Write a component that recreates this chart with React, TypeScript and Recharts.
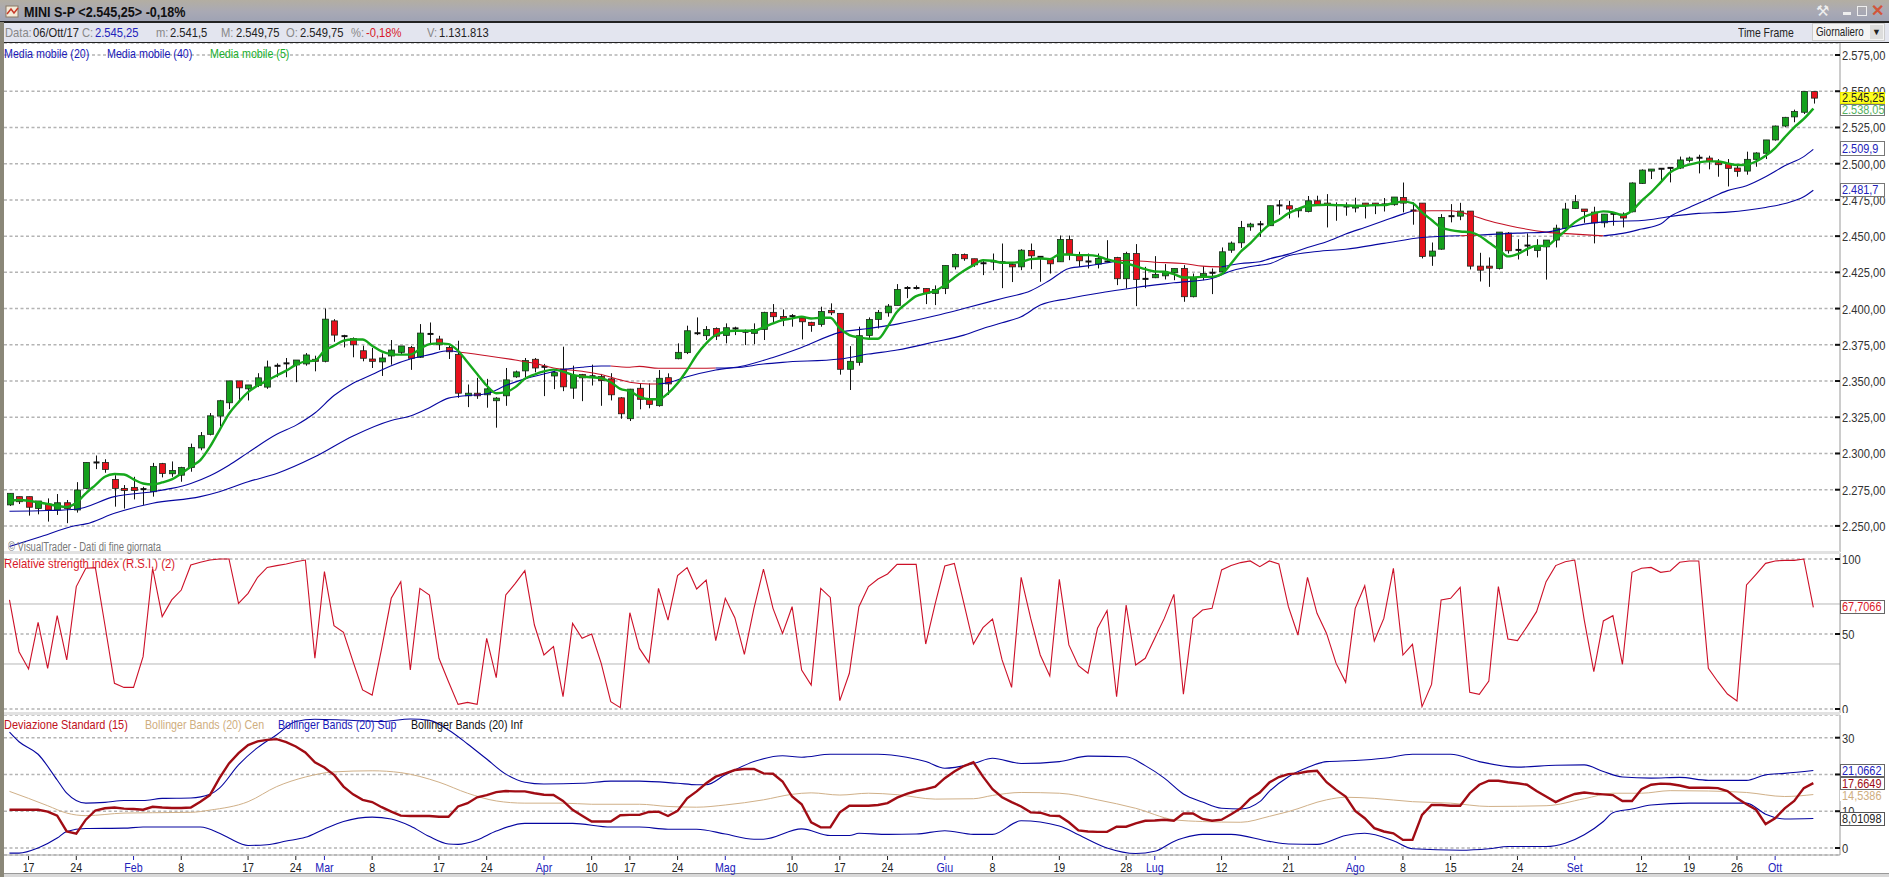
import { Bar, CartesianGrid, ComposedChart, Line, ReferenceLine, XAxis, YAxis } from "recharts";

const TICK_FONT = '"Liberation Sans", sans-serif';

// weekdays from 13 Jan 2017 to 6 Oct 2017, market closed on Good Friday
const dates: string[] = [];
for (let d = new Date(Date.UTC(2017, 0, 13)); d <= new Date(Date.UTC(2017, 9, 6)); d = new Date(d.getTime() + 86400000)) {
  const key = d.toISOString().slice(0, 10);
  if (d.getUTCDay() !== 0 && d.getUTCDay() !== 6 && key !== "2017-04-14") dates.push(key);
}

const xLabels: [string, string][] = [
  ["2017-01-17", "17"], ["2017-01-24", "24"], ["2017-02-01", "Feb"], ["2017-02-08", "8"], ["2017-02-17", "17"],
  ["2017-02-24", "24"], ["2017-03-01", "Mar"], ["2017-03-08", "8"], ["2017-03-17", "17"], ["2017-03-24", "24"],
  ["2017-04-03", "Apr"], ["2017-04-10", "10"], ["2017-04-17", "17"], ["2017-04-24", "24"], ["2017-05-01", "Mag"],
  ["2017-05-10", "10"], ["2017-05-17", "17"], ["2017-05-24", "24"], ["2017-06-01", "Giu"], ["2017-06-08", "8"],
  ["2017-06-19", "19"], ["2017-06-28", "28"], ["2017-07-03", "Lug"], ["2017-07-12", "12"], ["2017-07-21", "21"],
  ["2017-08-01", "Ago"], ["2017-08-08", "8"], ["2017-08-15", "15"], ["2017-08-24", "24"], ["2017-09-01", "Set"],
  ["2017-09-12", "12"], ["2017-09-19", "19"], ["2017-09-26", "26"], ["2017-10-02", "Ott"],
];
const monthLabels = ["Feb", "Mar", "Apr", "Mag", "Giu", "Lug", "Ago", "Set", "Ott"];

const opens = [
  2264.5, 2270.2, 2270.2, 2262, 2265.1, 2261, 2266, 2261, 2275.9, 2293.8,
  2293.8, 2282.1, 2275.9, 2276.6, 2275.4, 2273.6, 2293, 2286, 2285, 2290.3,
  2303.8, 2313.2, 2325.8, 2335, 2350.1, 2344.6, 2346.9, 2345.8, 2360.5, 2362.2,
  2361.1, 2361.8, 2365, 2363.6, 2391.5, 2381, 2379.4, 2370.9, 2365.2, 2363.2,
  2367.3, 2369.8, 2373.2, 2366.4, 2382.5, 2379, 2373.2, 2368.4, 2339.8, 2341.6,
  2340.5, 2336.4, 2339.8, 2352.9, 2357, 2365, 2359.8, 2353.5, 2358.3, 2345.1,
  2354.5, 2353.3, 2353.1, 2351.5, 2338.4, 2324, 2345, 2337.4, 2333, 2352.3,
  2365.4, 2369.6, 2383, 2381.3, 2386.3, 2381.5, 2386.3, 2384, 2382.9, 2385.6,
  2397.4, 2394.6, 2394.8, 2393.5, 2390.5, 2389.1, 2398.7, 2396.7, 2358.1, 2362.9,
  2381.5, 2392.5, 2397.1, 2402.2, 2414.2, 2414.2, 2413.9, 2410.5, 2413.9, 2428.8,
  2437.3, 2434.4, 2431.3, 2432.5, 2432, 2430.4, 2428.8, 2440.1, 2435.7, 2433.9,
  2432.3, 2447.7, 2436.4, 2432.5, 2430.7, 2432.5, 2435.3, 2420.6, 2438, 2420.5,
  2421.3, 2422.6, 2424.7, 2427.7, 2408.2, 2422.4, 2424.7, 2425.4, 2440.3, 2445.4,
  2456.4, 2458.2, 2457.2, 2471.2, 2471, 2467.5, 2467, 2474.4, 2472.8, 2471.4,
  2470.5, 2469.4, 2472.8, 2472.8, 2471.9, 2471.7, 2476.7, 2467.7, 2472.8, 2436.2,
  2441, 2463.8, 2463.8, 2467.3, 2429.3, 2429.3, 2427.7, 2452.1, 2440.5, 2443.5,
  2440.1, 2442.6, 2447.3, 2455.3, 2469.1, 2468.7, 2466.6, 2459.2, 2465.4, 2465.2,
  2466.8, 2486.4, 2494.9, 2496.5, 2496.9, 2497, 2502.3, 2504.1, 2503.9, 2500.7,
  2500.2, 2497, 2494.9, 2503, 2507.2, 2516.4, 2526, 2532.3, 2535.5, 2549.75,
];
const highs = [
  2272.5, 2270.2, 2270.2, 2267.2, 2269, 2272, 2267.9, 2280.2, 2293.8, 2298.6,
  2296, 2285, 2278.2, 2283.9, 2277, 2293.5, 2293.5, 2294.5, 2290.8, 2306.8,
  2314.8, 2327.9, 2337, 2350.1, 2350.1, 2347.3, 2355.4, 2364.1, 2362.2, 2365.9,
  2364.5, 2369.3, 2367.5, 2400, 2392.7, 2381.9, 2380.1, 2374.4, 2372.8, 2369.1,
  2378.3, 2374.2, 2374.2, 2389.3, 2390.4, 2381.2, 2374.4, 2377.8, 2347.6, 2352.2,
  2351.5, 2338.9, 2359, 2357.2, 2365.9, 2365.9, 2361.8, 2357.2, 2373.7, 2360.6,
  2354.9, 2361.3, 2354.9, 2355.4, 2338.9, 2344.6, 2348.4, 2348.4, 2357.6, 2355.3,
  2376, 2388.2, 2393.9, 2387.9, 2387, 2389.8, 2387.5, 2385.6, 2389.8, 2397.8,
  2403.1, 2399.4, 2396.2, 2394.4, 2390.9, 2401.3, 2403.6, 2396.7, 2374.1, 2387.5,
  2393.9, 2399, 2403.1, 2416.9, 2415.5, 2416, 2413.9, 2416, 2429.8, 2438,
  2438, 2434.4, 2433.9, 2438, 2444.9, 2431.1, 2441, 2444.9, 2436.2, 2434.6,
  2450.4, 2450.4, 2439.2, 2438, 2438, 2447.2, 2435.7, 2439.2, 2444.5, 2428.8,
  2436.2, 2430.7, 2427.7, 2430, 2424.2, 2429.3, 2427.7, 2442.2, 2446.3, 2460.5,
  2459.2, 2460.5, 2471, 2474.9, 2474.4, 2469.4, 2477.7, 2477.9, 2479, 2473.3,
  2473.3, 2476.5, 2472.8, 2472.8, 2476.3, 2477, 2487, 2473.3, 2472.8, 2445.6,
  2465.2, 2472.1, 2473, 2467.3, 2438.5, 2435.3, 2452.8, 2452.8, 2447.9, 2451.9,
  2447.9, 2447.3, 2457.9, 2473, 2478.4, 2468.7, 2470.3, 2465.2, 2466.4, 2466.4,
  2487.1, 2496.1, 2496.3, 2496.8, 2497.3, 2504.9, 2504.9, 2506.2, 2505.5, 2503.2,
  2503.2, 2498.6, 2508.3, 2507.9, 2516.4, 2526.3, 2532.3, 2537.3, 2549.8, 2549.75,
];
const lows = [
  2263.8, 2265.1, 2257.1, 2258, 2253, 2257.6, 2251.9, 2259.2, 2275.4, 2289.2,
  2286.7, 2263.3, 2262, 2268.3, 2264.5, 2270.2, 2283.5, 2283.9, 2280.5, 2287.4,
  2302.2, 2312.5, 2318.7, 2330.6, 2336.1, 2336.6, 2345.8, 2344.6, 2352.6, 2352.6,
  2349.2, 2360.6, 2356.7, 2362.9, 2377.1, 2373.2, 2366.4, 2363.6, 2359, 2353.5,
  2361.3, 2368.6, 2357.7, 2365.9, 2375, 2371.4, 2365.2, 2338.4, 2332, 2337.7,
  2331.6, 2317.8, 2332.9, 2352.2, 2352.6, 2356, 2339.6, 2344.4, 2343, 2337.7,
  2336.1, 2346.9, 2332.9, 2336.6, 2324, 2322.4, 2330.5, 2331.2, 2332.3, 2340.4,
  2365, 2368.6, 2381.7, 2378.3, 2378.3, 2376, 2381.7, 2374.8, 2375.5, 2378.3,
  2389.8, 2387.9, 2387.5, 2378.7, 2384, 2387.5, 2395.5, 2354.4, 2343.8, 2360.6,
  2378.3, 2386.3, 2394.4, 2402.2, 2407.2, 2413.2, 2403.1, 2402.4, 2410, 2427,
  2433, 2428.8, 2423.1, 2426.5, 2414.1, 2418.3, 2426.5, 2427.2, 2418.5, 2424.2,
  2432.3, 2433.4, 2428.8, 2427.7, 2427.7, 2432, 2416.2, 2413.9, 2401.7, 2414.1,
  2421, 2420.1, 2419.6, 2404.7, 2407.7, 2419.6, 2410, 2423.8, 2438.5, 2441.9,
  2453.7, 2449.5, 2457, 2464.8, 2462.2, 2462.9, 2466.4, 2471, 2456, 2460.6,
  2464.1, 2466.4, 2462.2, 2465.2, 2467, 2471, 2466.4, 2457.9, 2434.6, 2429.5,
  2440.6, 2459.5, 2461, 2427, 2418.7, 2415, 2427, 2438, 2433.9, 2436.4,
  2435.3, 2420, 2442.2, 2454.9, 2468.7, 2459.2, 2445, 2456, 2457.2, 2456,
  2466.4, 2486, 2489.4, 2487.1, 2487.1, 2496.3, 2500.9, 2493.3, 2496.1, 2491,
  2484.3, 2491, 2492.4, 2497.9, 2503.2, 2515.9, 2525.1, 2528.6, 2534.3, 2541.5,
];
const closes = [
  2272.5, 2266.7, 2262.9, 2267.2, 2261, 2266, 2262, 2274.8, 2293.8, 2293.5,
  2289, 2275.9, 2274.5, 2274.5, 2275, 2291, 2286.2, 2288.3, 2290.3, 2304.1,
  2312.3, 2326, 2336.4, 2350.1, 2345.3, 2347.3, 2352.2, 2359.7, 2360, 2361.8,
  2364.5, 2368, 2363.6, 2392.7, 2381.7, 2380.5, 2375, 2365.7, 2363.6, 2365.9,
  2371.4, 2374.2, 2365.7, 2383.1, 2382, 2375, 2370.2, 2341.6, 2341.6, 2339.8,
  2344.6, 2338.2, 2350.8, 2356.3, 2364.1, 2359, 2359.3, 2355.8, 2346, 2353.8,
  2352.2, 2353, 2350.3, 2340.5, 2327.4, 2344.4, 2337.4, 2333.9, 2351.9, 2348,
  2369.8, 2384.7, 2382.3, 2385.6, 2381, 2386.8, 2385.5, 2382.9, 2385.6, 2397.4,
  2394.4, 2393, 2394.4, 2390.9, 2388.4, 2398, 2397.1, 2358.1, 2363.6, 2381.3,
  2392.5, 2397.4, 2401.7, 2413.2, 2413.7, 2413.7, 2410.5, 2413.2, 2429.8, 2437.3,
  2434.4, 2430.2, 2430.9, 2432, 2431.6, 2428.8, 2440.3, 2436.4, 2434.6, 2430.9,
  2447.7, 2437.6, 2433, 2432.1, 2434.6, 2432.3, 2420.6, 2438, 2420.1, 2420.1,
  2423.6, 2424.9, 2427.7, 2408.2, 2421.3, 2424.2, 2424.3, 2439.2, 2445.2, 2456,
  2458.3, 2457.8, 2471, 2470.8, 2468.7, 2468.9, 2474.4, 2471.7, 2471.2, 2471,
  2470.1, 2471, 2471, 2471, 2471.5, 2477, 2472.8, 2467.3, 2436, 2439.7,
  2462.9, 2463.4, 2467.3, 2429.3, 2426.5, 2427.9, 2452.8, 2439.9, 2440.1, 2443.1,
  2442.9, 2447.3, 2455.5, 2468.7, 2473.8, 2467, 2459.2, 2465.2, 2465, 2462.5,
  2486.7, 2495.6, 2496.3, 2496.1, 2497.1, 2502.6, 2503.9, 2503.7, 2501.6, 2499.3,
  2496.8, 2494.7, 2503, 2507.4, 2516.4, 2526, 2532, 2536, 2549.8, 2545.25,
];

const ma5 = [
  2267.4, 2267.9, 2267.4, 2266.3, 2265.1, 2263.8, 2263.1, 2266, 2272.5, 2278.2,
  2283.9, 2285.8, 2285.5, 2282.1, 2279.3, 2278.6, 2280, 2282.1, 2286.2, 2290.8,
  2295.4, 2304.5, 2316, 2327.4, 2335.4, 2342.3, 2346.9, 2350.3, 2353.8, 2357.2,
  2361.1, 2363.6, 2364.1, 2370.9, 2374.4, 2377.8, 2378.7, 2378.7, 2374.4, 2370.5,
  2368.6, 2368.2, 2368.2, 2372.1, 2375.5, 2376, 2375.5, 2370.9, 2362.9, 2354.9,
  2346.9, 2341.6, 2342.3, 2345.8, 2351.5, 2354.5, 2356.7, 2357.9, 2356.5, 2354.2,
  2353.1, 2352.6, 2351.9, 2349.2, 2344.6, 2343, 2339.2, 2337.4, 2337.4, 2341.5,
  2348.4, 2357.6, 2368, 2376, 2381.7, 2384, 2384.7, 2384.7, 2384.7, 2387,
  2389.8, 2392.1, 2393.2, 2394.4, 2393.2, 2393.7, 2393.7, 2386.3, 2381.7, 2380.1,
  2379.2, 2379.2, 2387.5, 2397.8, 2403.6, 2408.6, 2410.5, 2412.3, 2416.2, 2421.5,
  2426.1, 2430, 2433.4, 2433, 2431.6, 2431.6, 2432.3, 2434.1, 2434.6, 2434.1,
  2437.3, 2437.3, 2436.9, 2436.9, 2436.2, 2433.9, 2432.3, 2431.1, 2429.3, 2427.2,
  2425.6, 2425.4, 2423.8, 2421.5, 2421.5, 2421.9, 2421.9, 2423.8, 2431.1, 2439.2,
  2445, 2451.9, 2457.9, 2461.1, 2465.7, 2468.7, 2471, 2471.4, 2471.7, 2471.4,
  2471.2, 2471, 2471, 2471.4, 2471.4, 2472.8, 2473.8, 2472.8, 2466.4, 2461.1,
  2456, 2454.2, 2453.2, 2452.8, 2450.3, 2445.6, 2441, 2436, 2437.6, 2441,
  2443.3, 2443.3, 2447.9, 2453.7, 2459.5, 2463.4, 2465.7, 2467.1, 2466.4, 2464.5,
  2467.5, 2474.4, 2480.2, 2487.1, 2494, 2497.5, 2499.3, 2500.9, 2501.6, 2501.6,
  2500.2, 2499.1, 2499.3, 2501.6, 2505.5, 2510.8, 2518.2, 2525.1, 2530.9, 2538.05,
];

// moving averages change colour where price is under them, so each stretch is its own list
const ma20Blue1: number[][] = [
  [0, 2260.1], [4, 2260.6], [7, 2261.5], [11, 2270.2], [15, 2273.6], [17, 2275.9], [19, 2279.3], [21, 2284.6],
  [23, 2291.9], [25, 2300.6], [28, 2313.2], [30, 2319.4], [32, 2327.9], [34, 2340], [36, 2348.5], [38, 2354.5],
  [40, 2360.6], [42, 2365.2], [44, 2368.2], [46, 2370.9], [47, 2370],
];
const ma20Red1: number[][] = [
  [47, 2370], [50, 2367.5], [53, 2364.5], [55, 2362.2], [57, 2359], [60, 2356.7], [62, 2354.5], [64, 2350.8],
  [65, 2349.2], [67, 2348], [68, 2348],
];
const ma20Blue2: number[][] = [
  [68, 2348], [69, 2348.9], [71, 2353], [74, 2357.6], [77, 2360.6], [80, 2366.3], [83, 2373.2], [87, 2383.6],
  [90, 2386.3], [93, 2389.3], [97, 2395], [100, 2400], [104, 2407], [107, 2412.3], [109, 2419.6], [111, 2427.7],
  [113, 2429.5], [116, 2432.7],
];
const ma20Red2: number[][] = [[116, 2432.7], [117, 2433.4], [120, 2432], [123, 2431.1], [125, 2429.3], [127, 2428.8]];
const ma20Blue3: number[][] = [
  [127, 2428.8], [129, 2431.1], [131, 2432.3], [132, 2434.3], [134, 2437.6], [136, 2442.2], [138, 2446.1], [140, 2451.4],
  [142, 2456], [144, 2460.6], [146, 2465.2], [147, 2467.3],
];
const ma20Red3: number[][] = [
  [147, 2467.3], [149, 2467.5], [151, 2467.5], [153, 2464.8], [155, 2460.6], [158, 2456], [161, 2452.8], [164, 2451.4],
  [167, 2450.2],
];
const ma20Blue4: number[][] = [
  [167, 2450.2], [169, 2451.9], [171, 2454.9], [173, 2458.3], [174, 2463.6], [176, 2469.8], [178, 2475.6], [180, 2481.4],
  [182, 2484.8], [184, 2491], [186, 2498.6], [188, 2504.9], [189, 2509.9],
];
const ma40Blue1: number[][] = [
  [0, 2235.8], [3, 2242], [7, 2250.3], [8, 2251.4], [11, 2258.7], [15, 2265.6], [20, 2270.2], [22, 2273.6], [25, 2280.5],
  [28, 2286.2], [32, 2297.7], [36, 2312.1], [40, 2322.8], [42, 2325.8], [44, 2331.6], [46, 2338.2], [48, 2340],
  [50, 2341.2], [52, 2346.9], [54, 2351.5], [56, 2354.9], [58, 2357.9], [60, 2359.5], [62, 2360.4], [63, 2360.4],
];
const ma40Red1: number[][] = [[63, 2360.4], [65, 2359.5], [66, 2360.1], [68, 2358.8], [71, 2358.8], [74, 2359]];
const ma40Blue2: number[][] = [
  [74, 2359], [76, 2359.2], [79, 2361.7], [81, 2362.9], [87, 2365.2], [90, 2368.6], [93, 2371.4], [97, 2377.1],
  [100, 2381.7], [102, 2386.3], [104, 2390.2], [106, 2394.4], [108, 2402.4], [111, 2407], [115, 2411.6], [118, 2414.6],
  [122, 2417.8], [126, 2420.8], [128, 2426], [131, 2430], [132, 2430.9], [134, 2436.4], [137, 2439.4], [140, 2441],
  [144, 2445], [148, 2449.1], [152, 2450.3],
];
const ma40Red2: number[][] = [[152, 2450.3], [154, 2450.7]];
const ma40Blue3: number[][] = [
  [154, 2450.7], [158, 2452.1], [161, 2452.8], [163, 2455.5], [165, 2458.3], [168, 2460.2], [171, 2460.8], [174, 2463.6],
  [177, 2465.7], [180, 2466.6], [184, 2469.8], [187, 2474.4], [188, 2477.2], [189, 2481.7],
];

const rsi = [
  72.7, 38.2, 26.7, 57.8, 27.1, 62.2, 32.7, 81.6, 93.8, 94.2,
  56, 17.1, 14.4, 14.4, 34.9, 93.8, 61.6, 72.7, 79.3, 96,
  97.8, 99.3, 100, 100, 70.4, 77.1, 87.8, 94.4, 95.6, 96.7,
  98.2, 99.3, 33.8, 91.6, 55.6, 51.1, 31.6, 12.7, 9.3, 40.4,
  73.8, 84.9, 26, 80.4, 76, 33.8, 18.2, 3.1, 4.4, 3.1,
  47.1, 20.9, 76, 83.8, 92.2, 56, 36, 41.6, 8.2, 57.1,
  47.1, 50, 30.4, 4.9, 0.9, 64.2, 40.4, 30.9, 80.4, 59.3,
  88.9, 94.2, 80, 86, 45.6, 73.8, 60.9, 36.4, 67.1, 93.3,
  67.1, 50.4, 68.2, 26, 16, 80.4, 74.4, 5.6, 23.8, 68.2,
  81.6, 86.7, 90, 96.4, 96.4, 96.4, 43.3, 70.4, 95.3, 97.1,
  70.4, 43.3, 54.2, 60, 32.7, 14.4, 87.8, 60.4, 36, 22,
  86.4, 42.7, 28.9, 23.8, 53.8, 65.6, 8.2, 69.3, 29.3, 33.8,
  47.1, 60.4, 76.4, 9.8, 60.4, 66, 67.1, 92.7, 95.6, 97.6,
  98.7, 94.9, 98.7, 96.7, 68.2, 49.3, 87.8, 63.8, 50.4, 30.4,
  17.8, 67.1, 82.2, 45.3, 60.4, 93.8, 36, 43.1, 1.6, 16.4,
  72.7, 73.8, 81.1, 11.1, 9.8, 18.7, 81.6, 46.7, 45.6, 54.9,
  64.9, 84.9, 95.6, 98.2, 99.3, 59.3, 24.9, 58.7, 62.2, 29.8,
  91.1, 93.8, 94.4, 91.1, 92, 97.8, 98.7, 98.7, 27.1, 18.2,
  10, 5.3, 82.7, 89.8, 97.1, 98.7, 99.1, 99.1, 100, 67.71,
];

const stdDev = [
  10.4, 10.4, 10.4, 10.4, 9.9, 8.8, 4.5, 3.9, 7.7, 10.2,
  10.8, 11, 10.7, 10.6, 10.4, 11.2, 11, 10.9, 10.9, 11,
  12.6, 14.4, 19, 23, 25.8, 28, 29, 29.4, 29.6, 28.8,
  27.6, 26, 23.3, 21.9, 19.9, 16.7, 14.6, 13.1, 12.5, 11.1,
  9.9, 8.8, 8.7, 8.7, 8.7, 8.5, 8.5, 11.3, 12.2, 13.8,
  14.4, 15.2, 15.5, 15.4, 15.4, 14.9, 14.5, 14.4, 12.8, 10.4,
  8.8, 7.2, 7.2, 7.2, 8.9, 9, 9, 9.8, 9.9, 8.7,
  10.1, 13.5, 15.4, 17.6, 19.4, 20.3, 21.2, 21.5, 21.5, 20.3,
  20.2, 18.1, 14, 11.9, 7, 5.6, 5.6, 9.7, 11.5, 11.5,
  11.5, 11.7, 12.2, 13.7, 14.7, 15.5, 16, 16.7, 19, 20.8,
  22.3, 23.3, 19.4, 16, 13.8, 12.5, 11.3, 9.7, 9.6, 8.8,
  8.7, 7, 4.8, 4.5, 4.4, 4.4, 5.8, 5.8, 6.7, 7.4,
  7.5, 7.7, 7.4, 9.4, 9.4, 7.9, 7.4, 7.7, 9.2, 10.8,
  13.4, 15.1, 17.8, 19.3, 20.1, 20.3, 20.8, 21, 17.9, 15.8,
  14, 10.1, 8.1, 5.4, 4.5, 4, 2.2, 2.2, 9, 11.7,
  11.7, 11.5, 11.5, 14.9, 17.2, 18.3, 18.3, 17.9, 17.6, 17.2,
  15.5, 14, 12.5, 13.7, 14.7, 15.1, 14.8, 14.6, 14.4, 12.8,
  12.8, 16, 17.2, 17.5, 17.4, 17, 16.4, 16.4, 16.4, 16.3,
  15.5, 13.5, 11.9, 10.4, 6.5, 8.1, 10.8, 12.8, 16.3, 17.66,
];
const bollSup: number[][] = [
  [0, 31.5], [1, 28.9], [3, 25.5], [5, 18.5], [6, 14.9], [8, 12.2], [10, 12.4], [12, 12.9], [14, 12.9], [16, 13.5],
  [19, 13.6], [21, 14.6], [22, 16.3], [24, 22.6], [26, 27.3], [28, 30.8], [30, 34.4], [32, 35], [35, 34.8], [39, 34.4],
  [42, 35.1], [44, 34.7], [46, 32.1], [48, 28.3], [50, 24.2], [52, 20.1], [54, 17.9], [56, 17.4], [60, 17.6], [63, 18.2],
  [66, 18.2], [70, 17.6], [72, 17.2], [73, 17.2], [75, 19.9], [78, 23.5], [81, 25.1], [83, 24.7], [86, 25.5], [91, 25.5],
  [94, 24.7], [96, 23.5], [98, 21.7], [101, 23], [103, 24.4], [106, 23], [110, 23.5], [113, 25], [117, 24.8], [119, 22.4],
  [121, 19], [123, 14.7], [125, 12.5], [127, 10.8], [129, 10.6], [131, 12.6], [132, 15.4], [134, 19.4], [136, 21.9],
  [138, 23.5], [141, 23.8], [144, 24.4], [147, 25.5], [151, 25.5], [154, 23.5], [158, 22], [162, 22.5], [165, 22.6],
  [167, 20.8], [169, 19.3], [172, 19], [175, 19.2], [178, 18.4], [182, 18.4], [184, 19.9], [186, 20.3], [189, 21.07],
];
const bollInf: number[][] = [
  [0, -1.4], [1, -1.4], [3, 0], [5, 2.7], [6, 4.5], [8, 5.3], [12, 5.4], [14, 5.7], [20, 5.7], [22, 4], [23, 2.7],
  [25, 0.7], [27, 0.9], [29, 1.9], [31, 2.9], [33, 5.2], [35, 7.2], [38, 8.4], [40, 7.9], [42, 6], [44, 3.1], [46, 1.1],
  [47, 1], [49, 2.2], [51, 4.6], [54, 6.7], [59, 6.7], [63, 5.7], [66, 5.7], [69, 5.1], [72, 5.1], [75, 3.8], [78, 2.4],
  [79, 2.4], [83, 5.2], [86, 3.4], [88, 3.4], [89, 4], [92, 3.7], [95, 3.8], [98, 4.7], [101, 3.7], [103, 3.7], [106, 7.4],
  [110, 6], [112, 3.6], [115, 0], [118, -1.5], [120, -0.9], [122, 1.8], [123, 2.7], [125, 3.7], [128, 3.7], [132, 1.8],
  [134, 1.1], [137, 1], [140, 3.4], [142, 4], [145, 2], [147, -0.2], [152, -0.6], [155, -0.2], [157, 0.4], [161, 0.4],
  [163, 1.3], [165, 3.6], [167, 7.2], [168, 9.6], [170, 10.6], [172, 11.7], [176, 12.2], [182, 12.2], [184, 9.2],
  [186, 7.9], [189, 8.01],
];
const bollCen: number[][] = [
  [0, 15.4], [2, 13.5], [4, 11.5], [6, 9.5], [8, 8.8], [12, 9.5], [15, 9.6], [19, 9.7], [21, 10.3], [25, 12.6], [28, 16.7],
  [31, 19.3], [34, 20.7], [38, 21], [41, 20.5], [45, 17.9], [48, 14.9], [51, 12.8], [54, 12.2], [58, 12.2], [61, 11.9],
  [66, 11.9], [69, 11.3], [72, 11.1], [75, 11.7], [79, 13.1], [82, 14.6], [84, 15], [87, 14.4], [90, 14.9], [93, 14.5],
  [97, 13.3], [101, 13.4], [103, 14.3], [106, 15.1], [110, 14.9], [114, 13.1], [118, 10.8], [122, 7.7], [125, 7.2],
  [129, 7], [132, 8.6], [134, 9.9], [138, 13.1], [140, 13.8], [143, 13.5], [147, 12.6], [151, 12.2], [155, 11.3],
  [161, 11.5], [165, 13.4], [168, 14.9], [171, 14.9], [174, 15.6], [178, 15.5], [182, 15.1], [186, 14], [189, 14.54],
];

const priceTicks = [2250, 2275, 2300, 2325, 2350, 2375, 2400, 2425, 2450, 2475, 2500, 2525, 2550, 2575];
const rsiTicks = [0, 50, 100];
const rsiLevels = [30, 70];
const devTicks = [0, 10, 20, 30];

const BLUE = "#0606a0";
const RED = "#c41226";
const maSegments: [string, string, number[][]][] = [
  ["ma20b1", BLUE, ma20Blue1], ["ma20r1", RED, ma20Red1], ["ma20b2", BLUE, ma20Blue2], ["ma20r2", RED, ma20Red2],
  ["ma20b3", BLUE, ma20Blue3], ["ma20r3", RED, ma20Red3], ["ma20b4", BLUE, ma20Blue4],
  ["ma40b1", BLUE, ma40Blue1], ["ma40r1", RED, ma40Red1], ["ma40b2", BLUE, ma40Blue2], ["ma40r2", RED, ma40Red2],
  ["ma40b3", BLUE, ma40Blue3],
];

const rows: Record<string, any>[] = dates.map((date, i) => ({
  date, open: opens[i], high: highs[i], low: lows[i], close: closes[i], ma5: ma5[i], rsi: rsi[i], stdDev: stdDev[i],
}));
const fill = (key: string, points: number[][]) => points.forEach(([i, v]) => { rows[i][key] = v; });
maSegments.forEach(([key, , points]) => fill(key, points));
fill("bollSup", bollSup);
fill("bollInf", bollInf);
fill("bollCen", bollCen);

const xPadding = { left: 0.7, right: 21.9 };
const price = (v: number) => v.toLocaleString("de-DE", { minimumFractionDigits: 2, maximumFractionDigits: 2 });

function Candle(props: any) {
  const { x, y, width, height, payload } = props;
  if (!payload || !height) return null;
  const unit = height / (payload.high - payload.low);
  const up = payload.close >= payload.open;
  const top = y + (payload.high - Math.max(payload.open, payload.close)) * unit;
  const bodyH = Math.abs(payload.close - payload.open) * unit;
  const cx = Math.round(x + width / 2) + 0.5;
  return (
    <g>
      <line x1={cx} x2={cx} y1={y} y2={y + height} stroke="#111" />
      {bodyH < 1.6 ? (
        <line x1={cx - 3} x2={cx + 3} y1={top} y2={top} stroke="#111" strokeWidth={2} />
      ) : (
        <rect x={cx - 3} y={top} width={6} height={bodyH} fill={up ? "#14a01c" : "#e8101c"} stroke="#1c2a1c" strokeWidth={0.8} />
      )}
    </g>
  );
}

function ValueTick(props: any) {
  const { y, payload, format } = props;
  return (
    <g>
      <line x1={1835} x2={1840} y1={y} y2={y} stroke="#111" strokeWidth={2} />
      <text transform={`translate(1842 ${y + 5}) scale(0.86 1)`} fontSize={13} fontFamily={TICK_FONT} fill="#333">
        {format ? format(payload.value) : payload.value}
      </text>
    </g>
  );
}

function DateTick(props: any) {
  const { x, payload } = props;
  const label = xLabels.find((l) => l[0] === payload.value)?.[1];
  const color = monthLabels.includes(label) ? "#2222bb" : "#222";
  return (
    <g>
      <line x1={x} x2={x} y1={141} y2={145} stroke={color} />
      <text transform={`translate(${x} 157) scale(0.82 1)`} fontSize={13} fontFamily={TICK_FONT} textAnchor="middle" fill={color}>
        {label}
      </text>
    </g>
  );
}

function Label({ x, y, color, children, size = 13, sx = 0.83 }: any) {
  return (
    <div style={{ position: "absolute", left: x, top: y, color, fontSize: size, lineHeight: "15px", whiteSpace: "nowrap", fontFamily: TICK_FONT, zIndex: 3, transform: `scaleX(${sx})`, transformOrigin: "left" }}>
      {children}
    </div>
  );
}

function ValueBox({ y, h, color, bg, border, children }: any) {
  return (
    <div style={{ position: "absolute", left: 1840, top: y, width: 45, height: h, boxSizing: "border-box", border: `1px solid ${border}`, background: bg, color, fontSize: 13, lineHeight: `${h - 2}px`, fontFamily: TICK_FONT, zIndex: 4, whiteSpace: "nowrap" }}>
      <span style={{ position: "absolute", left: 1, top: 0, transform: "scaleX(0.84)", transformOrigin: "left" }}>{children}</span>
    </div>
  );
}

export default function App() {
  const xDomainProps = { dataKey: "date", type: "category" as const, scale: "band" as const, padding: xPadding };
  const chartMargin = { top: 0, right: 0, left: 4, bottom: 0 };
  return (
    <div style={{ position: "absolute", left: 0, top: 0, width: 1889, height: 877, overflow: "hidden", background: "#fff", fontFamily: TICK_FONT }}>
      <div style={{ position: "absolute", left: 0, top: 0, width: 1889, height: 21, background: "linear-gradient(#b3aea2, #a9a9b4 55%, #9fa3b4)" }} />
      <div style={{ position: "absolute", left: 0, top: 21, width: 1889, height: 2, background: "#222" }} />
      <div style={{ position: "absolute", left: 0, top: 23, width: 1889, height: 19, background: "#e3e5ef" }} />
      <div style={{ position: "absolute", left: 0, top: 42, width: 1889, height: 1, background: "#222" }} />
      <div style={{ position: "absolute", left: 0, top: 22, width: 4, height: 855, background: "#8a8778", zIndex: 5 }} />

      <svg style={{ position: "absolute", left: 5, top: 4 }} width={15} height={15}>
        <rect x={1} y={2} width={12} height={11} fill="#f3ead8" stroke="#8a7a66" />
        <polyline points="2,10 6,5 9,9 13,4" fill="none" stroke="#c83a2a" strokeWidth={1.5} />
      </svg>
      <Label x={24} y={4} color="#111" size={15} sx={0.84}><b>MINI S-P &lt;2.545,25&gt; -0,18%</b></Label>
      <Label x={1816} y={3} color="#eee" size={15} sx={1}>⚒</Label>
      <div style={{ position: "absolute", left: 1843, top: 12, width: 8, height: 3, background: "#eee" }} />
      <div style={{ position: "absolute", left: 1857, top: 6, width: 8, height: 8, border: "1px solid #eee" }} />
      <Label x={1871} y={3} color="#d2563a" size={16} sx={1}><b>✕</b></Label>

      <Label x={5} y={25} color="#888" sx={0.86}>Data:</Label>
      <Label x={33} y={25} color="#222" sx={0.86}>06/Ott/17</Label>
      <Label x={82} y={25} color="#888" sx={0.86}>C:</Label>
      <Label x={95} y={25} color="#2222bb" sx={0.86}>2.545,25</Label>
      <Label x={156} y={25} color="#888" sx={0.86}>m:</Label>
      <Label x={170} y={25} color="#222" sx={0.86}>2.541,5</Label>
      <Label x={221} y={25} color="#888" sx={0.86}>M:</Label>
      <Label x={236} y={25} color="#222" sx={0.86}>2.549,75</Label>
      <Label x={286} y={25} color="#888" sx={0.86}>O:</Label>
      <Label x={300} y={25} color="#222" sx={0.86}>2.549,75</Label>
      <Label x={351} y={25} color="#888" sx={0.86}>%:</Label>
      <Label x={366} y={25} color="#d81828" sx={0.86}>-0,18%</Label>
      <Label x={427} y={25} color="#888" sx={0.86}>V:</Label>
      <Label x={439} y={25} color="#222" sx={0.86}>1.131.813</Label>
      <Label x={1738} y={25} color="#222" sx={0.8}>Time Frame</Label>
      <div style={{ position: "absolute", left: 1812, top: 23, width: 73, height: 18, boxSizing: "border-box", background: "#f4f4f4", border: "1px solid #ccc", fontSize: 13, lineHeight: "16px", color: "#222" }}>
        <span style={{ position: "absolute", left: 3, top: 0, transform: "scaleX(0.75)", transformOrigin: "left" }}>Giornaliero</span>
        <span style={{ position: "absolute", right: 1, top: 1, width: 13, height: 14, background: "#ddd", fontSize: 9, lineHeight: "14px", textAlign: "center" }}>▼</span>
      </div>

      <Label x={4} y={46} color="#1a1ab8" sx={0.82}>Media mobile (20)</Label>
      <Label x={107} y={46} color="#1a1ab8" sx={0.82}>Media mobile (40)</Label>
      <Label x={210} y={46} color="#22b030" sx={0.82}>Media mobile (5)</Label>
      <Label x={8} y={540} color="#777" size={12} sx={0.79}>© VisualTrader - Dati di fine giornata</Label>
      <Label x={4} y={556} color="#d81828" sx={0.87}>Relative strength index (R.S.I.) (2)</Label>
      <Label x={4} y={717} color="#c01020" sx={0.84}>Deviazione Standard (15)</Label>
      <Label x={145} y={717} color="#cfae80" sx={0.82}>Bollinger Bands (20) Cen</Label>
      <Label x={278} y={717} color="#1a1ab8" sx={0.82}>Bollinger Bands (20) Sup</Label>
      <Label x={411} y={717} color="#111" sx={0.82}>Bollinger Bands (20) Inf</Label>

      <div style={{ position: "absolute", left: 0, top: 43 }}>
        <ComposedChart width={1889} height={509} data={rows} margin={chartMargin}>
          <CartesianGrid vertical={false} stroke="#b4b4b4" strokeWidth={1.5} strokeDasharray="3 2.5" />
          <XAxis {...xDomainProps} hide />
          <YAxis orientation="right" width={49} domain={[2232, 2583.3]} ticks={priceTicks} allowDataOverflow interval={0} stroke="#999" tickLine={false} tick={<ValueTick format={price} />} />
          <Bar dataKey={(d: any) => [d.low, d.high]} barSize={6} isAnimationActive={false} shape={(p: any) => <Candle {...p} />} />
          {maSegments.map(([key, color]) => (
            <Line key={key} type="monotone" dataKey={key} stroke={color} strokeWidth={1.1} dot={false} connectNulls isAnimationActive={false} />
          ))}
          <Line type="monotone" dataKey="ma5" stroke="#16a81c" strokeWidth={2.4} dot={false} isAnimationActive={false} />
        </ComposedChart>
      </div>
      <div style={{ position: "absolute", left: 4, top: 551, width: 1836, height: 3, background: "#e2e2e2", zIndex: 2 }} />

      <div style={{ position: "absolute", left: 0, top: 553 }}>
        <ComposedChart width={1889} height={160} data={rows} margin={chartMargin}>
          <CartesianGrid vertical={false} stroke="#b4b4b4" strokeWidth={1.5} strokeDasharray="3 2.5" />
          <XAxis {...xDomainProps} hide />
          <YAxis orientation="right" width={49} domain={[-2.67, 104]} ticks={rsiTicks} allowDataOverflow interval={0} stroke="#999" tickLine={false} tick={<ValueTick />} />
          {rsiLevels.map((v) => (
            <ReferenceLine key={v} y={v} stroke="#b8b8b8" />
          ))}
          <Line dataKey="rsi" stroke="#cc1028" strokeWidth={1.1} dot={false} isAnimationActive={false} />
        </ComposedChart>
      </div>
      <div style={{ position: "absolute", left: 4, top: 712, width: 1836, height: 3, background: "#e2e2e2", zIndex: 2 }} />

      <div style={{ position: "absolute", left: 0, top: 873, width: 1889, height: 4, background: "#d8d8d8", borderTop: "1px solid #999" }} />
      <div style={{ position: "absolute", left: 0, top: 715 }}>
        <ComposedChart width={1889} height={162} data={rows} margin={chartMargin}>
          <CartesianGrid vertical={false} stroke="#b4b4b4" strokeWidth={1.5} strokeDasharray="3 2.5" />
          <XAxis {...xDomainProps} height={22} ticks={xLabels.map((l) => l[0])} interval={0} stroke="#aaa" tickLine={false} tick={<DateTick />} />
          <YAxis orientation="right" width={49} domain={[-1.9, 36.17]} ticks={devTicks} allowDataOverflow interval={0} stroke="#999" tickLine={false} tick={<ValueTick />} />
          <Line type="monotone" dataKey="bollCen" stroke="#d0b088" strokeWidth={1} dot={false} connectNulls isAnimationActive={false} />
          <Line type="monotone" dataKey="bollSup" stroke={BLUE} strokeWidth={1.1} dot={false} connectNulls isAnimationActive={false} />
          <Line type="monotone" dataKey="bollInf" stroke={BLUE} strokeWidth={1.1} dot={false} connectNulls isAnimationActive={false} />
          <Line dataKey="stdDev" stroke="#a00c14" strokeWidth={2.4} dot={false} isAnimationActive={false} />
        </ComposedChart>
      </div>

      <ValueBox y={92} h={12} color="#222" bg="#ffff1e" border="#e8e800">2.545,25</ValueBox>
      <ValueBox y={104} h={12} color="#55b060" bg="#fff" border="#777">2.538,05</ValueBox>
      <ValueBox y={141} h={15} color="#2222bb" bg="#fff" border="#777">2.509,9</ValueBox>
      <ValueBox y={183} h={14} color="#2222bb" bg="#fff" border="#777">2.481,7</ValueBox>
      <ValueBox y={600} h={14} color="#d81828" bg="#fff" border="#666">67,7066</ValueBox>
      <ValueBox y={764} h={13} color="#2222bb" bg="#fff" border="#666">21,0662</ValueBox>
      <ValueBox y={777} h={13} color="#a00c14" bg="#fff" border="#666">17,6649</ValueBox>
      <ValueBox y={790} h={11} color="#cfae80" bg="#fff" border="#fff">14,5386</ValueBox>
      <ValueBox y={812} h={14} color="#222" bg="#fff" border="#555">8,01098</ValueBox>
    </div>
  );
}
